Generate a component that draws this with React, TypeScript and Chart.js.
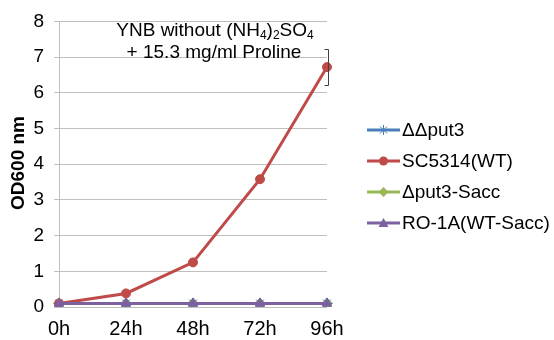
import React, { useEffect, useRef } from "react";
import { Chart, registerables } from "chart.js";

Chart.register(...registerables);

const categories = ["0h", "24h", "48h", "72h", "96h"];
const seriesNames = ["ΔΔput3", "SC5314(WT)", "Δput3-Sacc", "RO-1A(WT-Sacc)"];
const ddput3 = [0.1, 0.1, 0.1, 0.1, 0.1];
const sc5314 = [0.1, 0.38, 1.25, 3.58, 6.72];
const dput3Sacc = [0.1, 0.1, 0.1, 0.1, 0.1];
const ro1a = [0.1, 0.1, 0.1, 0.1, 0.1];
const wtError = [0, 0, 0, 0, 0.5];
const yTicks = [0, 1, 2, 3, 4, 5, 6, 7, 8];

const colors = ["#4A7EBB", "#BE4B48", "#98B954", "#7D60A0"];
const styles = ["star", "circle", "rectRot", "triangle"];
const FONT = "'Liberation Sans', Arial, sans-serif";

function drawMarker(ctx: CanvasRenderingContext2D, style: string, x: number, y: number, color: string) {
  ctx.save();
  ctx.fillStyle = color;
  ctx.strokeStyle = color;
  ctx.lineWidth = 1;
  const r = 5;
  ctx.beginPath();
  if (style === "circle") {
    ctx.arc(x, y, 4.5, 0, Math.PI * 2);
    ctx.fill();
  } else if (style === "rectRot") {
    ctx.moveTo(x, y - r);
    ctx.lineTo(x + r, y);
    ctx.lineTo(x, y + r);
    ctx.lineTo(x - r, y);
    ctx.closePath();
    ctx.fill();
  } else if (style === "triangle") {
    ctx.moveTo(x, y - r);
    ctx.lineTo(x + r, y + r * 0.8);
    ctx.lineTo(x - r, y + r * 0.8);
    ctx.closePath();
    ctx.fill();
  } else {
    for (let k = 0; k < 4; k++) {
      const a = (k * Math.PI) / 4;
      ctx.moveTo(x - Math.cos(a) * r, y - Math.sin(a) * r);
      ctx.lineTo(x + Math.cos(a) * r, y + Math.sin(a) * r);
    }
    ctx.stroke();
  }
  ctx.restore();
}

const overlay = {
  id: "overlay",
  afterDatasetsDraw(chart: any) {
    const ctx = chart.ctx;
    const xs = chart.scales.x;
    const ys = chart.scales.y;
    ctx.save();
    ctx.strokeStyle = "#404040";
    ctx.lineWidth = 1;
    sc5314.forEach((v, i) => {
      const e = wtError[i];
      if (!e) return;
      const x = Math.round(xs.getPixelForValue(i)) + 1.5;
      const y1 = Math.round(ys.getPixelForValue(v + e)) + 0.5;
      const y2 = Math.round(ys.getPixelForValue(v - e)) + 0.5;
      ctx.beginPath();
      ctx.moveTo(x, y1);
      ctx.lineTo(x, y2);
      ctx.moveTo(x - 4, y1);
      ctx.lineTo(x, y1);
      ctx.moveTo(x - 4, y2);
      ctx.lineTo(x, y2);
      ctx.stroke();
    });
    ctx.restore();
  },
  afterDraw(chart: any) {
    const ctx = chart.ctx;
    ctx.save();
    ctx.fillStyle = "#000";
    ctx.textBaseline = "alphabetic";
    const big = `19px ${FONT}`;
    const small = `12px ${FONT}`;
    const parts: [string, boolean][] = [
      ["YNB without (NH", false],
      ["4", true],
      [")", false],
      ["2", true],
      ["SO", false],
      ["4", true],
    ];
    let total = 0;
    parts.forEach(([t, s]) => {
      ctx.font = s ? small : big;
      total += ctx.measureText(t).width;
    });
    let x = 215 - total / 2;
    const base1 = 36;
    parts.forEach(([t, s]) => {
      ctx.font = s ? small : big;
      ctx.fillText(t, x, s ? base1 + 3 : base1);
      x += ctx.measureText(t).width;
    });
    ctx.font = big;
    ctx.textAlign = "center";
    ctx.fillText("+ 15.3 mg/ml Proline", 214, 58);

    ctx.save();
    ctx.translate(19, 163);
    ctx.rotate(-Math.PI / 2);
    ctx.font = `bold 19px ${FONT}`;
    ctx.textAlign = "center";
    ctx.textBaseline = "middle";
    ctx.fillText("OD600 nm", 0, 0);
    ctx.restore();

    const rowY = [130, 161, 192, 223];
    seriesNames.forEach((name, i) => {
      const y = rowY[i];
      ctx.strokeStyle = colors[i];
      ctx.lineWidth = 3;
      ctx.beginPath();
      ctx.moveTo(367, y);
      ctx.lineTo(400, y);
      ctx.stroke();
      drawMarker(ctx, styles[i], 383.5, y, colors[i]);
      ctx.fillStyle = "#000";
      ctx.font = `19px ${FONT}`;
      ctx.textAlign = "left";
      ctx.textBaseline = "middle";
      ctx.fillText(name, 402, y + 1);
    });
    ctx.restore();
  },
};

export default function App() {
  const ref = useRef<HTMLCanvasElement>(null);
  useEffect(() => {
    const datasets = [ddput3, sc5314, dput3Sacc, ro1a].map((d, i) => ({
      label: seriesNames[i],
      data: d,
      borderColor: colors[i],
      backgroundColor: colors[i],
      pointBackgroundColor: colors[i],
      pointBorderColor: colors[i],
      pointStyle: styles[i],
      pointRadius: i === 1 ? 4.5 : 5.5,
      pointBorderWidth: 1,
      borderWidth: 3,
      tension: 0,
      order: [2, 1, 3, 0][i],
    }));
    const chart = new Chart(ref.current!, {
      type: "line",
      data: { labels: categories, datasets },
      options: {
        animation: false,
        responsive: false,
        maintainAspectRatio: false,
        layout: { padding: { left: 0, top: 20, right: 227, bottom: 0 } },
        plugins: { legend: { display: false }, tooltip: { enabled: false } },
        scales: {
          x: {
            offset: false,
            grid: { display: false, drawTicks: false },
            border: { display: false },
            ticks: { color: "#000", font: { size: 20, family: FONT }, padding: 10, maxRotation: 0 },
            afterFit: (s: any) => {
              s.height = 33;
            },
          },
          y: {
            min: 0,
            max: 8,
            afterBuildTicks: (s: any) => {
              s.ticks = yTicks.map((v) => ({ value: v }));
            },
            grid: { color: "#BFBFBF", lineWidth: 1, tickLength: 5 },
            border: { color: "#BFBFBF" },
            ticks: { color: "#000", font: { size: 19, family: FONT }, padding: 10 },
            afterFit: (s: any) => {
              s.width = 59;
            },
          },
        },
      },
      plugins: [overlay],
    });
    return () => chart.destroy();
  }, []);
  return (
    <div style={{ position: "fixed", left: 0, top: 0, width: 554, height: 340, background: "#fff" }}>
      <canvas ref={ref} width={554} height={340} style={{ display: "block" }} />
    </div>
  );
}
